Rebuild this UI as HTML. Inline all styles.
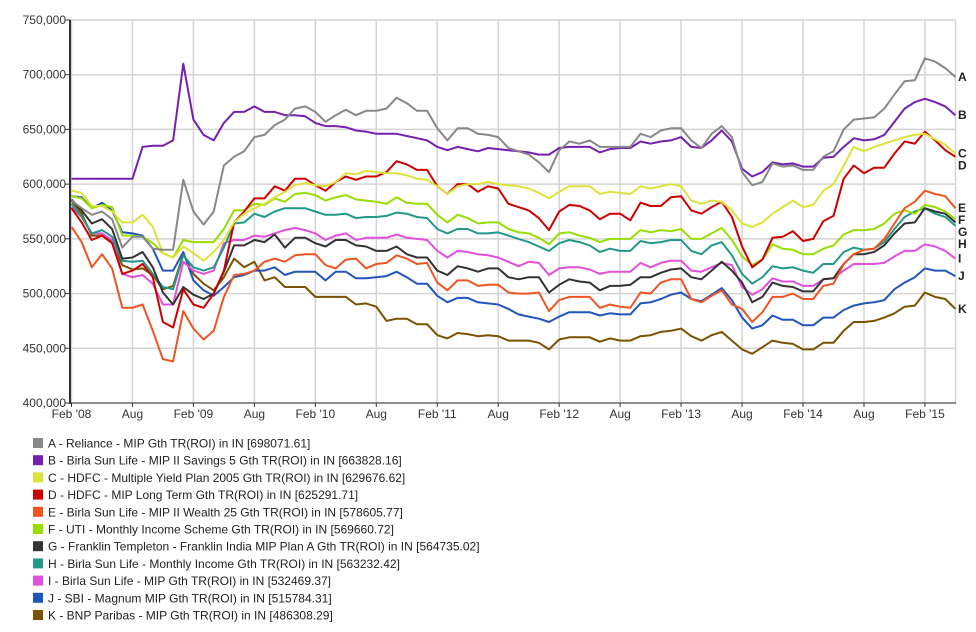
<!DOCTYPE html>
<html><head><meta charset="utf-8"><style>
body{margin:0;background:#fff;font-family:"Liberation Sans",sans-serif;}
svg text{font-family:"Liberation Sans",sans-serif;}
</style></head><body>
<svg id="chart" width="976" height="627" xmlns="http://www.w3.org/2000/svg"></svg>
<script>
const xTickLabels=["Feb '08","Aug","Feb '09","Aug","Feb '10","Aug","Feb '11","Aug","Feb '12","Aug","Feb '13","Aug","Feb '14","Aug","Feb '15"];
const yTicks=[400000,450000,500000,550000,600000,650000,700000,750000];
const seriesKeys=["A","B","C","D","E","F","G","H","I","J","K"];
const seriesNames=["A - Reliance - MIP Gth TR(ROI) in IN [698071.61]","B - Birla Sun Life - MIP II Savings 5 Gth TR(ROI) in IN [663828.16]","C - HDFC - Multiple Yield Plan 2005 Gth TR(ROI) in IN [629676.62]","D - HDFC - MIP Long Term Gth TR(ROI) in IN [625291.71]","E - Birla Sun Life - MIP II Wealth 25 Gth TR(ROI) in IN [578605.77]","F - UTI - Monthly Income Scheme Gth TR(ROI) in IN [569660.72]","G - Franklin Templeton - Franklin India MIP Plan A Gth TR(ROI) in IN [564735.02]","H - Birla Sun Life - Monthly Income Gth TR(ROI) in IN [563232.42]","I - Birla Sun Life - MIP Gth TR(ROI) in IN [532469.37]","J - SBI - Magnum MIP Gth TR(ROI) in IN [515784.31]","K - BNP Paribas - MIP Gth TR(ROI) in IN [486308.29]"];
const seriesColors=["#888888","#7420b0","#dde23a","#cc0000","#ee5522","#99dd00","#333333","#229988","#e050dd","#2255bb","#7a5200"];
const A=[585,578,572,575,568,542,552,552,541,540,540,604,575,563,575,617,625,630,643,645,654,659,669,671,666,657,663,668,663,667,667,669,679,674,667,667,651,640,651,651,646,645,643,633,630,627,620,611,631,639,637,640,634,634,634,634,646,643,649,651,651,640,633,646,653,643,611,599,602,619,616,617,613,613,625,630,650,659,660,661,669,682,694,695,715,712,706,698];
const B=[605,605,605,605,605,605,605,634,635,635,640,710,659,645,640,656,666,666,671,666,666,663,663,662,656,653,653,652,649,648,646,646,646,644,642,640,634,631,634,632,630,633,632,631,630,629,627,627,633,634,634,634,629,632,633,633,639,637,639,640,643,634,633,640,649,639,614,607,611,620,618,619,616,616,624,625,634,642,640,641,645,657,669,675,678,675,671,663];
const C=[594,592,580,580,575,565,565,572,561,537,533,543,537,530,538,549,565,573,578,582,588,593,599,601,599,598,602,610,609,612,611,610,610,608,605,604,598,591,598,600,600,602,600,599,598,596,592,587,593,598,598,598,591,593,592,591,598,596,598,600,598,585,582,585,584,576,564,561,565,573,579,585,579,581,594,600,617,634,630,634,637,640,643,645,646,641,636,628];
const D=[578,565,549,553,546,518,521,527,515,474,469,504,490,487,500,521,565,575,587,587,598,594,605,605,599,594,602,607,604,607,607,611,621,618,613,613,598,591,600,600,593,598,596,582,579,576,569,558,575,581,580,576,568,573,573,567,583,580,580,588,589,576,573,579,584,570,543,524,531,551,552,557,548,550,566,571,605,617,610,615,615,628,639,637,648,640,631,625];
const E=[561,547,524,536,523,487,487,490,466,440,438,484,468,458,466,497,517,518,521,529,532,529,535,536,536,526,523,531,532,523,527,528,535,532,527,528,510,503,512,512,507,508,508,501,500,500,501,484,494,497,497,497,487,490,488,487,501,500,510,513,513,495,492,498,503,490,486,474,483,497,497,500,495,495,507,509,527,536,540,541,550,564,578,584,594,591,589,578];
const F=[589,587,578,581,579,553,553,552,546,537,533,549,547,547,547,559,576,576,582,581,587,584,591,592,590,585,588,590,586,585,584,582,588,583,582,582,572,565,572,569,564,565,565,559,556,555,551,545,555,556,553,551,547,550,550,550,558,556,558,557,559,550,550,555,560,549,534,526,531,545,541,540,536,536,541,544,554,558,558,559,564,573,576,573,581,579,575,568];
const G=[586,576,564,568,559,532,533,538,524,501,490,506,499,495,500,520,544,544,549,547,554,542,551,551,546,543,549,549,544,543,539,539,543,536,533,533,521,517,525,523,520,523,523,515,513,515,515,501,508,513,511,510,503,507,507,508,515,515,519,522,523,515,513,521,529,521,510,492,497,510,507,506,502,502,513,514,527,536,536,538,544,555,564,565,578,575,573,565];
const H=[582,570,555,558,552,530,529,530,518,506,504,535,524,521,524,542,564,565,573,570,575,578,578,578,575,572,572,573,569,570,570,571,574,573,570,569,559,555,559,559,555,555,556,553,550,547,543,539,546,549,547,544,538,541,539,539,548,546,547,549,549,539,536,544,547,535,518,509,515,525,523,524,521,519,527,527,538,542,540,541,547,559,570,575,578,573,570,562];
const I=[579,570,555,555,549,518,515,517,509,490,490,529,521,518,521,546,549,549,553,552,555,558,560,558,555,549,553,555,549,551,551,551,554,551,550,549,539,533,539,538,536,535,533,529,525,529,528,517,523,524,524,522,518,520,520,520,528,524,528,530,530,521,520,524,528,526,506,499,504,514,511,511,507,507,513,514,521,527,527,527,528,534,539,539,545,543,539,532];
const J=[589,588,578,583,576,556,555,553,541,521,521,538,512,503,498,506,515,517,521,521,524,517,520,520,520,512,520,520,514,514,515,516,520,515,509,509,498,492,496,496,492,491,490,486,481,479,477,474,479,483,483,483,480,482,481,481,491,492,495,499,501,495,493,499,505,494,478,468,471,480,476,476,471,471,478,478,485,489,491,492,494,504,510,515,523,521,521,516];
const K=[585,573,553,553,547,526,522,523,517,504,507,536,518,509,503,515,532,524,529,512,515,506,506,506,497,497,497,497,490,491,488,475,477,477,472,472,462,459,464,463,461,462,461,457,457,457,455,449,458,460,460,460,456,459,457,457,461,462,465,466,468,461,457,462,465,457,449,445,451,457,455,454,449,449,455,455,466,474,474,475,478,482,488,489,501,497,495,486];
const seriesValues=[A,B,C,D,E,F,G,H,I,J,K];

const NS="http://www.w3.org/2000/svg";
const svg=document.getElementById("chart");
const X0=71.5,MW=10.16,YB=403,YT=20;
function xScale(i){return X0+i*MW;}
function yScale(v){return YB-(v-400000)/350000*(YB-YT);}
function mk(tag,attrs,parent){const e=document.createElementNS(NS,tag);for(const k in attrs)e.setAttribute(k,attrs[k]);(parent||svg).appendChild(e);return e;}

const grid=mk("g",{});


yTicks.forEach(v=>{
  const y=yScale(v);
  const l=mk("line",{x1:70,x2:956,y1:y,y2:y,stroke:"#d4d4d4","stroke-width":1.5},grid);
  
  
  mk("line",{x1:65,x2:70,y1:y,y2:y,stroke:"#333"},grid);
  const t=mk("text",{x:66,y:y+4,"text-anchor":"end","font-size":12,fill:"#333"},grid);
  
  
  t.textContent=v.toLocaleString("en-US");
});
xTickLabels.forEach((s,k)=>{
  const x=xScale(k*6);
  const l=mk("line",{x1:x,x2:x,y1:YT,y2:YB,stroke:"#d4d4d4","stroke-width":1.5},grid);
  
  
  mk("line",{x1:x,x2:x,y1:YB,y2:YB+4,stroke:"#333"},grid);
  const t=mk("text",{x:x,y:418,"text-anchor":"middle","font-size":12,fill:"#333"},grid);
  
  
  t.textContent=s;
});
const edge=mk("line",{x1:955.5,x2:955.5,y1:YT,y2:YB,stroke:"#d4d4d4","stroke-width":1.5});


const yaxis=mk("line",{x1:70,x2:70,y1:YT,y2:YB+1,stroke:"#333","stroke-width":2});


const xaxis=mk("line",{x1:69,x2:956,y1:YB,y2:YB,stroke:"#333","stroke-width":1});



for(let s=seriesValues.length-1;s>=0;s--){
  const vals=seriesValues[s];
  const pts=vals.map((v,i)=>xScale(i).toFixed(1)+","+yScale(v*1000).toFixed(1)).join(" ");
  const p=mk("polyline",{points:pts,fill:"none",stroke:seriesColors[s],"stroke-width":2,"stroke-linejoin":"round"});
  
  
}
// end labels, spaced to avoid overlap
const ends=seriesValues.map((v,s)=>({s:s,y:yScale(v[v.length-1]*1000)+4}));
ends.sort((a,b)=>a.y-b.y);
for(let k=1;k<ends.length;k++){if(ends[k].y-ends[k-1].y<12)ends[k].y=ends[k-1].y+12;}
ends.forEach(e=>{
  const t=mk("text",{x:958,y:e.y,"font-size":12,"font-weight":"bold",fill:"#222"});
  
  
  t.textContent=seriesKeys[e.s];
});
// legend
const lg=mk("g",{});


seriesNames.forEach((n,s)=>{
  const y=443+s*17.2;
  const g=mk("g",{},lg);
  
  
  mk("rect",{x:33,y:y-5,width:10,height:10,fill:seriesColors[s]},g);
  const t=mk("text",{x:48,y:y+4.5,"font-size":12,fill:"#222"},g);
  t.textContent=n;
});
</script>
</body></html>
